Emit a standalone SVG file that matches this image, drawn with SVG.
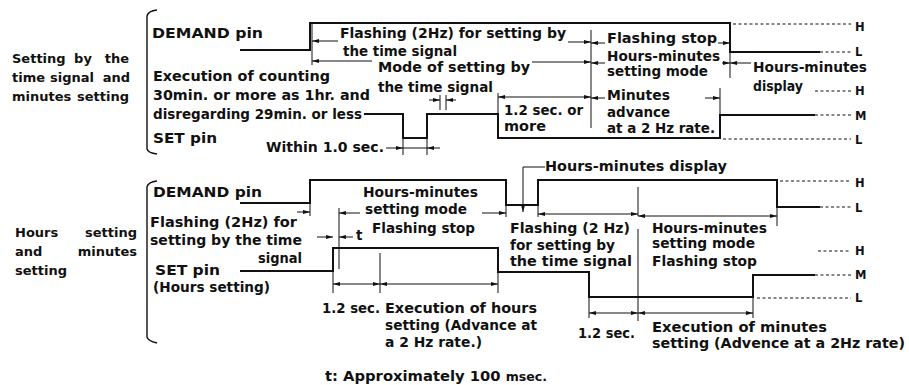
<svg xmlns="http://www.w3.org/2000/svg" width="909" height="385" viewBox="0 0 909 385">
<defs>
<marker id="a" viewBox="0 0 7 4" refX="7" refY="2" markerWidth="7" markerHeight="4" markerUnits="userSpaceOnUse" orient="auto-start-reverse"><path d="M0,0 L7,2 L0,4 z" fill="#111"/></marker>
</defs>
<style>
text{font-family:"DejaVu Sans","Liberation Sans",sans-serif;font-weight:bold;font-size:13.5px;fill:#111}
.ttl{font-size:13px}
.lv{font-size:11.5px}
.wave{fill:none;stroke:#111;stroke-width:2;stroke-linejoin:miter}
.thin{fill:none;stroke:#111;stroke-width:1}
.arr{fill:none;stroke:#111;stroke-width:1;marker-end:url(#a)}
.arr2{fill:none;stroke:#111;stroke-width:1;marker-start:url(#a);marker-end:url(#a)}
.dash{fill:none;stroke:#111;stroke-width:1;stroke-dasharray:3 2.5}
.br{fill:none;stroke:#111;stroke-width:1.4}
</style>
<rect width="909" height="385" fill="#fff"/>

<g id="top-section">
  <g id="top-title">
    <text class="ttl" y="63"><tspan x="12">Setting</tspan><tspan x="83" text-anchor="middle">by</tspan><tspan x="129" text-anchor="end">the</tspan></text>
    <text class="ttl" y="82"><tspan x="12">time</tspan><tspan x="50">signal</tspan><tspan x="130" text-anchor="end">and</tspan></text>
    <text class="ttl" y="101"><tspan x="12">minutes</tspan><tspan x="129" text-anchor="end">setting</tspan></text>
  </g>
  <path class="br" d="M157,10 Q148,11 147,16 L147,149 Q148,153 157,154"/>
  <g id="top-demand">
    <text x="152" y="38" textLength="111" lengthAdjust="spacingAndGlyphs">DEMAND pin</text>
    <polyline class="wave" points="240,50 310,50 310,23 730,23 730,52 820,52"/>
    <line class="dash" x1="733" y1="24" x2="851" y2="24"/>
    <line class="dash" x1="820" y1="52" x2="851" y2="52"/>
    <text class="lv" x="855" y="31">H</text>
    <text class="lv" x="855" y="56">L</text>
  </g>
  <g id="top-set">
    <text x="153" y="81" textLength="177" lengthAdjust="spacingAndGlyphs">Execution of counting</text>
    <text x="153" y="100" textLength="217" lengthAdjust="spacingAndGlyphs">30min. or more as 1hr. and</text>
    <text x="153" y="119" textLength="209" lengthAdjust="spacingAndGlyphs">disregarding 29min. or less</text>
    <text x="153" y="143" textLength="64" lengthAdjust="spacingAndGlyphs">SET pin</text>
    <polyline class="wave" points="364,114 403,114 403,138 427,138 427,114 498,114 498,138 720,138 720,115 815,115"/>
    <line class="dash" x1="815" y1="91" x2="851" y2="91"/>
    <line class="dash" x1="815" y1="115" x2="851" y2="115"/>
    <line class="dash" x1="723" y1="139" x2="851" y2="139"/>
    <text class="lv" x="855" y="95">H</text>
    <text class="lv" x="855" y="120">M</text>
    <text class="lv" x="855" y="144">L</text>
  </g>
  <g id="top-labels">
    <text x="266" y="152" textLength="118" lengthAdjust="spacingAndGlyphs">Within 1.0 sec.</text>
    <text x="340" y="38" textLength="226" lengthAdjust="spacingAndGlyphs">Flashing (2Hz) for setting by</text>
    <text x="343" y="56" textLength="114" lengthAdjust="spacingAndGlyphs">the time signal</text>
    <text x="378" y="72" textLength="152" lengthAdjust="spacingAndGlyphs">Mode of setting by</text>
    <text x="378" y="92" textLength="115" lengthAdjust="spacingAndGlyphs">the time signal</text>
    <text x="504" y="115" textLength="79" lengthAdjust="spacingAndGlyphs">1.2 sec. or</text>
    <text x="504" y="131" textLength="42" lengthAdjust="spacingAndGlyphs">more</text>
    <text x="607" y="43" textLength="110" lengthAdjust="spacingAndGlyphs">Flashing stop</text>
    <text x="607" y="61" textLength="113" lengthAdjust="spacingAndGlyphs">Hours-minutes</text>
    <text x="607" y="76" textLength="101" lengthAdjust="spacingAndGlyphs">setting mode</text>
    <text x="607" y="100" textLength="63" lengthAdjust="spacingAndGlyphs">Minutes</text>
    <text x="607" y="117" textLength="63" lengthAdjust="spacingAndGlyphs">advance</text>
    <text x="607" y="133" textLength="108" lengthAdjust="spacingAndGlyphs">at a 2 Hz rate.</text>
    <text x="753" y="72" textLength="114" lengthAdjust="spacingAndGlyphs">Hours-minutes</text>
    <text x="753" y="91" textLength="50" lengthAdjust="spacingAndGlyphs">display</text>
  </g>
</g>

<g id="bottom-section">
  <g id="bottom-title">
    <text class="ttl" y="237"><tspan x="15">Hours</tspan><tspan x="137" text-anchor="end">setting</tspan></text>
    <text class="ttl" y="256"><tspan x="15">and</tspan><tspan x="137" text-anchor="end">minutes</tspan></text>
    <text class="ttl" x="15" y="275">setting</text>
  </g>
  <path class="br" d="M157,181 Q148,182 147,187 L147,337 Q148,341 157,343"/>
  <g id="bottom-demand">
    <text x="153" y="197" textLength="109" lengthAdjust="spacingAndGlyphs">DEMAND pin</text>
    <polyline class="wave" points="240,203 310,203 310,180 506,180 506,205 538,205 538,180 777,180 777,207 820,207"/>
    <line class="dash" x1="780" y1="181" x2="851" y2="181"/>
    <line class="dash" x1="820" y1="207" x2="851" y2="207"/>
    <text class="lv" x="855" y="187">H</text>
    <text class="lv" x="855" y="212">L</text>
  </g>
  <g id="bottom-set">
    <text x="150" y="227" textLength="147" lengthAdjust="spacingAndGlyphs">Flashing (2Hz) for</text>
    <text x="150" y="245" textLength="152" lengthAdjust="spacingAndGlyphs">setting by the time</text>
    <text x="258" y="263" textLength="44" lengthAdjust="spacingAndGlyphs">signal</text>
    <text x="155" y="275" textLength="65" lengthAdjust="spacingAndGlyphs">SET pin</text>
    <text x="153" y="292" textLength="117" lengthAdjust="spacingAndGlyphs">(Hours setting)</text>
    <polyline class="wave" points="240,271 333,271 333,248 498,248 498,272 589,272 589,297 753,297 753,275 815,275"/>
    <line class="dash" x1="818" y1="251" x2="851" y2="251"/>
    <line class="dash" x1="815" y1="275" x2="851" y2="275"/>
    <line class="dash" x1="757" y1="298" x2="851" y2="298"/>
    <text class="lv" x="855" y="255">H</text>
    <text class="lv" x="855" y="279">M</text>
    <text class="lv" x="855" y="302">L</text>
  </g>
  <g id="bottom-labels">
    <text x="363" y="197" textLength="115" lengthAdjust="spacingAndGlyphs">Hours-minutes</text>
    <text x="365" y="214" textLength="102" lengthAdjust="spacingAndGlyphs">setting mode</text>
    <text x="372" y="233" textLength="103" lengthAdjust="spacingAndGlyphs">Flashing stop</text>
    <text x="356" y="240">t</text>
    <text x="545" y="171" textLength="182" lengthAdjust="spacingAndGlyphs">Hours-minutes display</text>
    <text x="510" y="233" textLength="120" lengthAdjust="spacingAndGlyphs">Flashing (2 Hz)</text>
    <text x="510" y="250" textLength="105" lengthAdjust="spacingAndGlyphs">for setting by</text>
    <text x="510" y="266" textLength="122" lengthAdjust="spacingAndGlyphs">the time signal</text>
    <text x="652" y="233" textLength="115" lengthAdjust="spacingAndGlyphs">Hours-minutes</text>
    <text x="652" y="248" textLength="103" lengthAdjust="spacingAndGlyphs">setting mode</text>
    <text x="652" y="266" textLength="105" lengthAdjust="spacingAndGlyphs">Flashing stop</text>
    <text x="322" y="313" textLength="58" lengthAdjust="spacingAndGlyphs">1.2 sec.</text>
    <text x="385" y="313" textLength="152" lengthAdjust="spacingAndGlyphs">Execution of hours</text>
    <text x="385" y="330" textLength="152" lengthAdjust="spacingAndGlyphs">setting (Advance at</text>
    <text x="385" y="347" textLength="97" lengthAdjust="spacingAndGlyphs">a 2 Hz rate.)</text>
    <text x="578" y="338" textLength="57" lengthAdjust="spacingAndGlyphs">1.2 sec.</text>
    <text x="652" y="332" textLength="175" lengthAdjust="spacingAndGlyphs">Execution of minutes</text>
    <text x="652" y="348" textLength="253" lengthAdjust="spacingAndGlyphs">setting (Advence at a 2Hz rate)</text>
  </g>
</g>

<text x="325" y="381" textLength="222" lengthAdjust="spacingAndGlyphs">t: Approximately 100 <tspan font-size="11.5">msec.</tspan></text>

<g id="connectors">
  <line class="thin" x1="312" y1="23" x2="312" y2="65"/>
  <line class="thin" x1="591" y1="30" x2="591" y2="128"/>
  <line class="thin" x1="730" y1="52" x2="730" y2="78"/>
  <line class="thin" x1="498" y1="93" x2="498" y2="114"/>
  <line class="thin" x1="720" y1="88" x2="720" y2="115"/>
  <line class="thin" x1="440" y1="95" x2="440" y2="110"/>
  <line class="thin" x1="446" y1="95" x2="446" y2="110"/>
  <line class="thin" x1="403" y1="138" x2="403" y2="155"/>
  <line class="thin" x1="427" y1="138" x2="427" y2="155"/>
  <line class="arr" x1="338" y1="41" x2="312" y2="41"/>
  <line class="arr" x1="568" y1="42" x2="591" y2="42"/>
  <line class="arr" x1="605" y1="43" x2="591" y2="43"/>
  <line class="arr" x1="718" y1="43" x2="730" y2="43"/>
  <line class="arr" x1="372" y1="61" x2="312" y2="61"/>
  <line class="arr" x1="532" y1="62" x2="591" y2="62"/>
  <line class="arr" x1="605" y1="63" x2="591" y2="63"/>
  <line class="arr" x1="722" y1="63" x2="730" y2="63"/>
  <line class="arr" x1="751" y1="63" x2="730" y2="63"/>
  <line class="arr2" x1="498" y1="97" x2="591" y2="97"/>
  <line class="arr" x1="605" y1="98" x2="591" y2="98"/>
  <line class="arr" x1="705" y1="98" x2="720" y2="98"/>
  <line class="arr" x1="429" y1="100" x2="440" y2="100"/>
  <line class="arr" x1="456" y1="100" x2="446" y2="100"/>
  <line class="arr" x1="386" y1="148" x2="403" y2="148"/>
  <line class="thin" x1="403" y1="148" x2="427" y2="148"/>
  <line class="arr" x1="440" y1="148" x2="427" y2="148"/>
  <line class="thin" x1="310" y1="203" x2="310" y2="216"/>
  <line class="thin" x1="339" y1="208" x2="339" y2="269"/>
  <line class="thin" x1="333" y1="271" x2="333" y2="293"/>
  <line class="thin" x1="380" y1="253" x2="380" y2="293"/>
  <line class="thin" x1="498" y1="272" x2="498" y2="293"/>
  <line class="thin" x1="506" y1="205" x2="506" y2="217"/>
  <line class="thin" x1="538" y1="205" x2="538" y2="217"/>
  <line class="thin" x1="638" y1="187" x2="638" y2="216"/>
  <line class="thin" x1="638" y1="229" x2="638" y2="321"/>
  <line class="thin" x1="777" y1="207" x2="777" y2="226"/>
  <line class="thin" x1="589" y1="297" x2="589" y2="318"/>
  <line class="thin" x1="753" y1="297" x2="753" y2="318"/>
  <polyline class="arr" points="545,167 523,167 523,212"/>
  <line class="arr" x1="297" y1="212" x2="310" y2="212"/>
  <line class="arr" x1="317" y1="237" x2="333" y2="237"/>
  <line class="arr" x1="353" y1="237" x2="339" y2="237"/>
  <line class="arr" x1="360" y1="213" x2="339" y2="213"/>
  <line class="arr" x1="482" y1="213" x2="506" y2="213"/>
  <line class="arr2" x1="538" y1="214" x2="638" y2="214"/>
  <line class="arr2" x1="638" y1="216" x2="777" y2="216"/>
  <line class="arr2" x1="333" y1="284" x2="380" y2="284"/>
  <line class="arr2" x1="380" y1="284" x2="498" y2="284"/>
  <line class="arr2" x1="589" y1="313" x2="638" y2="313"/>
  <line class="arr2" x1="638" y1="313" x2="753" y2="313"/>
</g>
</svg>
